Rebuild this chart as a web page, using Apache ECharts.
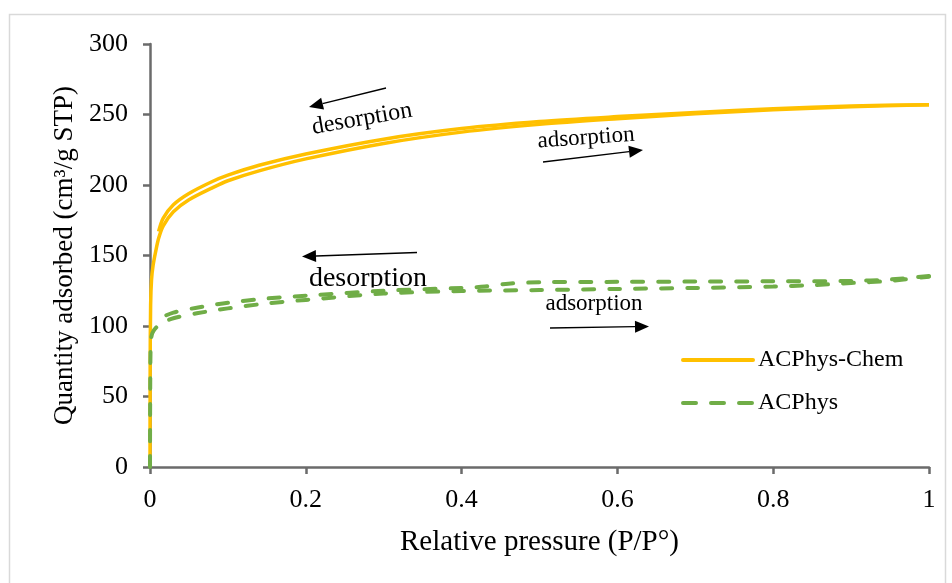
<!DOCTYPE html>
<html>
<head>
<meta charset="utf-8">
<script src="https://cdn.jsdelivr.net/npm/echarts@6/dist/echarts.min.js"></script>
<style>
html,body{margin:0;padding:0;background:#fff;}
#chart{width:952px;height:583px;}
</style>
</head>
<body>
<div id="chart"></div>
<script>
// ---- Data ----
const xTicks = [0, 0.2, 0.4, 0.6, 0.8, 1];
const yTicks = [0, 50, 100, 150, 200, 250, 300];

// ACPhys-Chem adsorption branch
const chemAdsP = [0, 0.0002, 0.0008, 0.002, 0.004, 0.007, 0.011, 0.017, 0.03, 0.05, 0.08, 0.1, 0.14, 0.2, 0.3, 0.4, 0.5, 0.6, 0.7, 0.8, 0.9, 1.0];
const chemAdsQ = [0, 70, 115, 133, 143, 152, 162, 171, 181, 189.5, 198, 203, 210, 218.5, 229.5, 237.5, 243, 247, 250.5, 253.3, 255.5, 257];
// ACPhys-Chem desorption branch
const chemDesP = [1.0, 0.9, 0.8, 0.7, 0.6, 0.5, 0.4, 0.3, 0.2, 0.14, 0.1, 0.08, 0.05, 0.03, 0.017, 0.011];
const chemDesQ = [257, 256, 254, 251.5, 248.5, 245, 240, 232.5, 222, 214, 207, 202.5, 194, 186, 176.5, 167];

// ACPhys adsorption branch
const physAdsP = [0, 0.0003, 0.001, 0.003, 0.008, 0.015, 0.03, 0.06, 0.1, 0.15, 0.2, 0.3, 0.4, 0.5, 0.6, 0.7, 0.8, 0.85, 0.9, 0.95, 1.0];
const physAdsQ = [0, 60, 88, 95, 99, 102, 105.5, 109, 112.5, 116, 118.5, 123, 124.8, 125.5, 126.3, 127, 128, 129, 130.5, 132, 135];
// ACPhys desorption branch
const physDesP = [1.0, 0.95, 0.9, 0.8, 0.7, 0.6, 0.5, 0.46, 0.43, 0.4, 0.3, 0.2, 0.15, 0.1, 0.06, 0.03, 0.015, 0.008];
const physDesQ = [135.5, 133, 132, 131.7, 131.5, 131.3, 131, 130, 128, 127, 125, 121.5, 119.5, 116.5, 113, 109.5, 106, 103];

const seriesNames = ['ACPhys-Chem', 'ACPhys'];

function pairs(px, qy) { return px.map((p, i) => [p, qy[i]]); }

const FONT = '"Liberation Serif", "Times New Roman", serif';
const YELLOW = '#FFC000', GREEN = '#70AD47';

function arrow(x1, y1, x2, y2) {
  const dx = x2 - x1, dy = y2 - y1, L = Math.hypot(dx, dy);
  const ux = dx / L, uy = dy / L, h = 14, w = 6;
  const bx = x2 - ux * h, by = y2 - uy * h;
  return [
    {type: 'line', z: 5, shape: {x1: x1, y1: y1, x2: bx, y2: by}, style: {stroke: '#000', lineWidth: 1.3}},
    {type: 'polygon', z: 5, shape: {points: [[x2, y2], [bx - uy * w, by + ux * w], [bx + uy * w, by - ux * w]]}, style: {fill: '#000'}}
  ];
}
function label(text, x, y, size, rotDeg, z) {
  return {type: 'text', x: x, y: y, z: z == null ? 5 : z, rotation: (rotDeg || 0) * Math.PI / 180,
    style: {text: text, fontSize: size, fontFamily: FONT, fill: '#000', align: 'center', verticalAlign: 'middle'}};
}

const graphics = [
  {type: 'polyline', z: 0, shape: {points: [[9.5, 600], [9.5, 14.5], [945.5, 14.5], [945.5, 600]]}, style: {stroke: '#d9d9d9', lineWidth: 1.5, fill: null}},
  label('desorption', 362, 119, 24, 10),
  ...arrow(386, 88, 309, 107),
  label('adsorption', 586, 138, 23, 4),
  ...arrow(543, 162, 643, 150),
  label('desorption', 368, 279, 28, 0, 0),
  {type: 'rect', z: 1, shape: {x: 300, y: 287.5, width: 136, height: 14}, style: {fill: '#fff'}},
  ...arrow(417, 252.5, 302, 256.5),
  label('adsorption', 594, 304, 23, 0),
  ...arrow(550, 328, 649, 326.5)
];

function branch(name, data, color, dashed) {
  return {
    name: name, type: 'line', data: data, symbol: 'none',
    smooth: 0.3, z: 3,
    lineStyle: dashed ? {color: color, width: 4, type: [11, 15], cap: 'round'} : {color: color, width: 3.5},
    itemStyle: {color: color}
  };
}

const chart = echarts.init(document.getElementById('chart'));
chart.setOption({
  animation: false,
  backgroundColor: '#fff',
  grid: {left: 150, right: 23, top: 44, bottom: 116, containLabel: false},
  xAxis: {
    type: 'value', min: xTicks[0], max: xTicks[xTicks.length - 1], interval: 0.2,
    name: 'Relative pressure (P/P°)', nameLocation: 'middle', nameGap: 61,
    nameTextStyle: {fontFamily: FONT, fontSize: 29, color: '#000'},
    axisLine: {show: true, onZero: false, lineStyle: {color: '#6b6b6b', width: 2.5}},
    axisTick: {show: true, inside: false, length: 7, lineStyle: {color: '#6b6b6b', width: 2.5}},
    axisLabel: {fontFamily: FONT, fontSize: 26, color: '#000', margin: 20},
    splitLine: {show: false}
  },
  yAxis: {
    type: 'value', min: yTicks[0], max: yTicks[yTicks.length - 1], interval: 50,
    name: 'Quantity adsorbed (cm³/g STP)', nameLocation: 'middle', nameGap: 72,
    nameTextStyle: {fontFamily: FONT, fontSize: 27, color: '#000'},
    axisLine: {show: true, lineStyle: {color: '#6b6b6b', width: 2.5}},
    axisTick: {show: true, inside: false, length: 7, lineStyle: {color: '#6b6b6b', width: 2.5}},
    axisLabel: {fontFamily: FONT, fontSize: 26, color: '#000', margin: 22},
    splitLine: {show: false}
  },
  legend: {
    orient: 'vertical', left: 681, top: 348, padding: 0,
    itemWidth: 70, itemHeight: 6, itemGap: 19,
    itemStyle: {opacity: 0},
    textStyle: {fontFamily: FONT, fontSize: 24, color: '#000', lineHeight: 24},
    data: [
      {name: seriesNames[0], lineStyle: {width: 4, color: YELLOW, cap: 'round'}},
      {name: seriesNames[1], lineStyle: {width: 4, color: GREEN, type: [13, 15], cap: 'round'}}
    ]
  },
  series: [
    branch(seriesNames[0], pairs(chemAdsP, chemAdsQ), YELLOW, false),
    branch(seriesNames[0], pairs(chemDesP, chemDesQ), YELLOW, false),
    branch(seriesNames[1], pairs(physAdsP, physAdsQ), GREEN, true),
    branch(seriesNames[1], pairs(physDesP, physDesQ), GREEN, true)
  ],
  graphic: graphics
});
</script>
</body>
</html>
